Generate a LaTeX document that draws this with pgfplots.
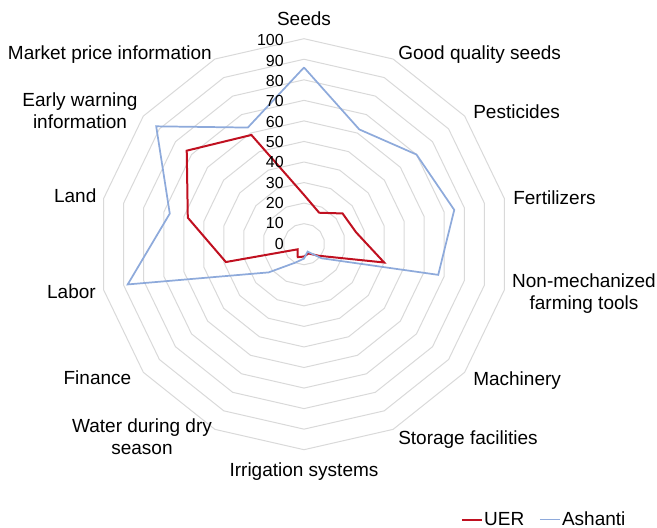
\documentclass[border=0pt]{standalone}
\usepackage{fontspec}
\setmainfont{Liberation Sans}
\usepackage{pgfplots}
\usepackage{pgfplotstable}
\pgfplotsset{compat=1.18}
\definecolor{uer}{RGB}{192,16,32}
\definecolor{ash}{RGB}{142,170,219}
\definecolor{gridc}{RGB}{217,217,217}

% angle (deg, clockwise from top), values; last row closes the loop
\pgfplotstableread{
angle UER Ashanti
90 24 86
64.2857 17 62
38.5714 24 70
12.8571 26 75
-12.8571 40 67
-38.5714 9 11
-64.2857 5 4
-90 6 7
-115.7143 7 10
-141.4286 4 22
-167.1429 39 88
-192.8571 58 67
-218.5714 73 92
-244.2857 59 63
-270 24 86
}\data

\begin{document}
\begin{tikzpicture}
\path[use as bounding box] (0,0) rectangle (492.75pt,-396pt);
\begin{axis}[
  at={(0,0)}, anchor=north west,
  scale only axis, width=492.75pt, height=396pt,
  xmin=-147.93, xmax=171.78, ymin=-138.10, ymax=118.83,
  hide axis, clip=false,
  legend style={draw=none, fill=none, at={(axis cs:76.2,-134.0)}, anchor=west,
    legend columns=-1, inner sep=0pt,
    font=\fontsize{14.25}{17}\selectfont,
    nodes={inner sep=1pt},
    /tikz/every even column/.append style={column sep=10pt}},
  legend image code/.code={\draw[#1] (0pt,0pt) -- (15pt,0pt);},
]
\pgfplotsinvokeforeach{10,20,30,40,50,60,70,80,90,100}{
  \addplot[gridc, line width=0.75pt, data cs=polar, forget plot]
    table[x=angle, y expr=#1] {\data};
}
\addplot[uer, line width=1.5pt, data cs=polar] table[x=angle, y=UER] {\data};
\addlegendentry{UER}
\addplot[ash, line width=1.3pt, data cs=polar] table[x=angle, y=Ashanti] {\data};
\addlegendentry{Ashanti}
\end{axis}
\begin{scope}[x=0.75pt, y=-0.75pt, every node/.style={inner sep=0pt, font=\fontsize{14.25}{17}\selectfont}]
\node[anchor=base] at (304,26) {Seeds};
\node[anchor=base west] at (398,59.2) {Good quality seeds};
\node[anchor=base west] at (473,118.3) {Pesticides};
\node[anchor=base west] at (513,204.6) {Fertilizers};
\node[anchor=base] at (584,287.6) {Non-mechanized};
\node[anchor=base] at (584,309.6) {farming tools};
\node[anchor=base west] at (473,385.2) {Machinery};
\node[anchor=base west] at (398,444.3) {Storage facilities};
\node[anchor=base] at (304,476.4) {Irrigation systems};
\node[anchor=base] at (142,432.6) {Water during dry};
\node[anchor=base] at (142,454.6) {season};
\node[anchor=base east] at (131.5,384.6) {Finance};
\node[anchor=base east] at (96,298.6) {Labor};
\node[anchor=base east] at (96.6,202.6) {Land};
\node[anchor=base] at (80,106.6) {Early warning};
\node[anchor=base] at (80,128.6) {information};
\node[anchor=base east] at (212,59.2) {Market price information};
\foreach \v/\yy in {0/249.0,10/228.7,20/208.4,30/188.0,40/167.7,50/147.4,60/127.1,70/106.7,80/86.4,90/66.1,100/45.8}{
  \node[anchor=base east, font=\fontsize{12}{14}\selectfont] at (284,\yy) {\v};
}
\end{scope}
\end{tikzpicture}
\end{document}
